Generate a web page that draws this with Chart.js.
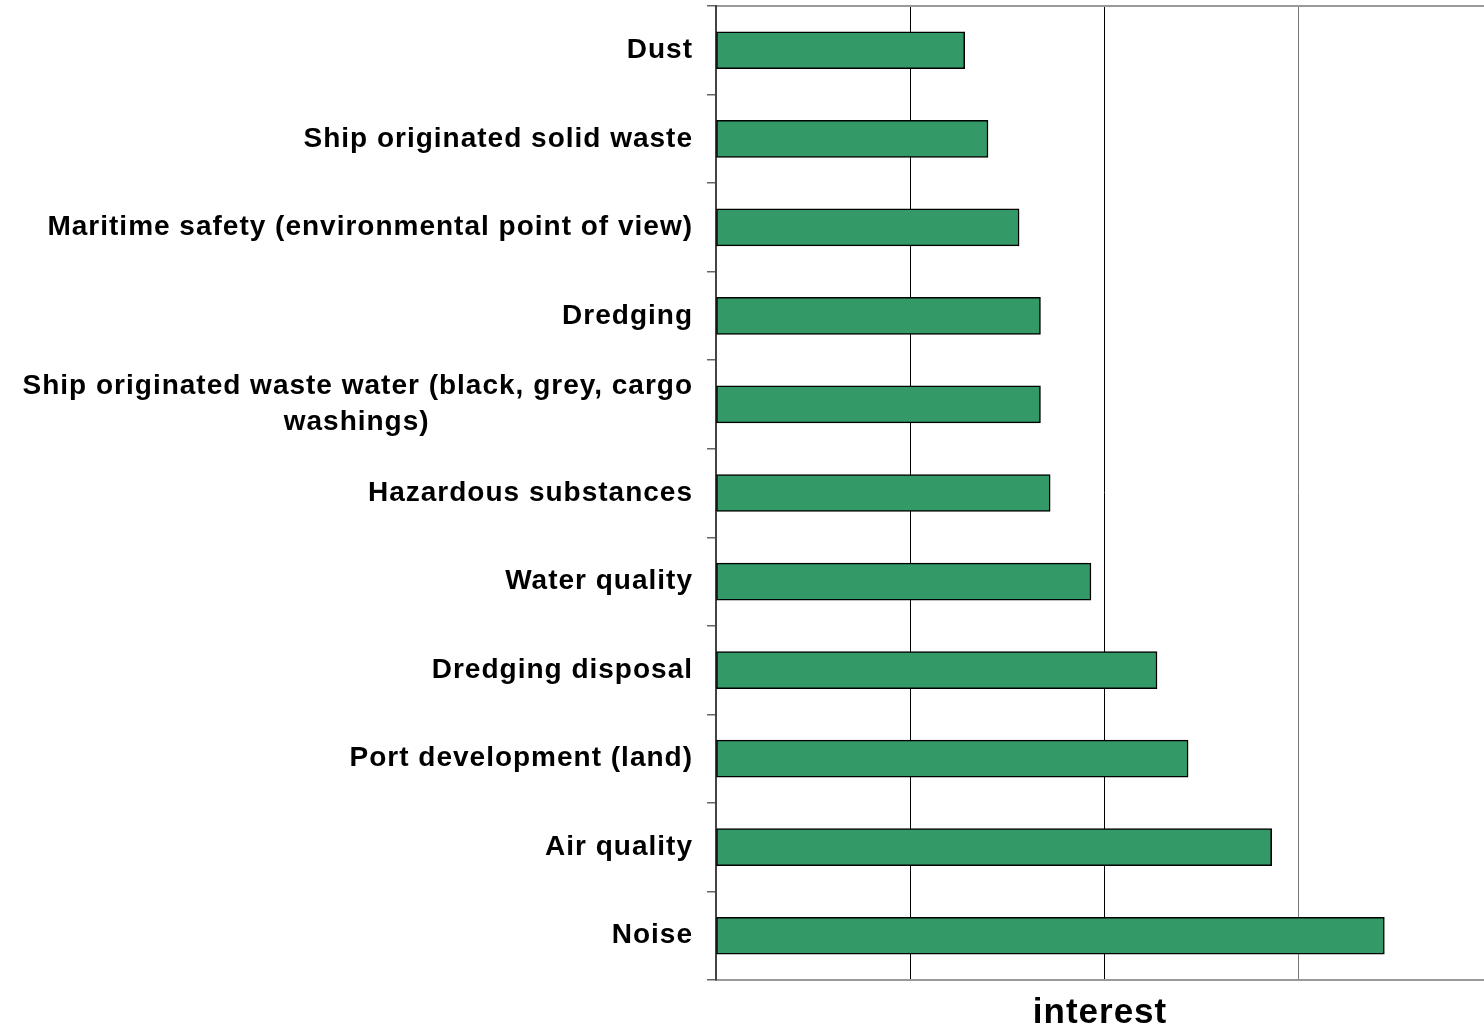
<!DOCTYPE html>
<html>
<head>
<meta charset="utf-8">
<script src="https://cdn.jsdelivr.net/npm/chart.js@4/dist/chart.umd.min.js"></script>
<style>
  html, body { margin: 0; padding: 0; background: #fff; overflow: hidden; }
  #wrap { width: 1484px; height: 1030px; }
</style>
</head>
<body>
<div id="wrap"><canvas id="canvas"></canvas></div>
<script>
// categories top to bottom
let issues = [
  "Dust",
  "Ship originated solid waste",
  "Maritime safety (environmental point of view)",
  "Dredging",
  ["Ship originated waste water (black, grey, cargo", "washings)"],
  "Hazardous substances",
  "Water quality",
  "Dredging disposal",
  "Port development (land)",
  "Air quality",
  "Noise"
];
let interest = [1.28, 1.40, 1.56, 1.67, 1.67, 1.72, 1.93, 2.27, 2.43, 2.86, 3.44];
let axisTitle = "interest";

let labelFont = { family: '"Liberation Sans", Arial, sans-serif', size: 28, weight: 'bold', lineHeight: 1.28 };
let spacing = '1px';

let ctx = document.getElementById("canvas").getContext('2d');

// arial in the original looks a bit wider, add some letter spacing
let spacingPlugin = {
  id: 'spacing',
  beforeUpdate: function(chart) { chart.ctx.letterSpacing = spacing; },
  beforeDraw: function(chart) { chart.ctx.letterSpacing = spacing; }
};

// centre the short lines of a wrapped label under the long one
function centreLines(value, index) {
  let lbl = issues[index];
  if (!Array.isArray(lbl)) return lbl;
  ctx.save();
  ctx.letterSpacing = spacing;
  ctx.font = 'bold ' + labelFont.size + 'px ' + labelFont.family;
  let widths = lbl.map(function(s) { return ctx.measureText(s).width; });
  let maxW = Math.max.apply(null, widths);
  let sp = ctx.measureText(' ').width;
  ctx.restore();
  return lbl.map(function(s, i) {
    let n = Math.round((maxW - widths[i]) / 2 / sp);
    return s + ' '.repeat(n);
  });
}

let config = {
  type: 'bar',
  data: {
    labels: issues,
    datasets: [{
      label: axisTitle,
      data: interest,
      backgroundColor: '#339966',
      borderColor: '#000',
      borderWidth: 1.5,
      borderSkipped: false,
      barThickness: 37
    }]
  },
  options: {
    indexAxis: 'y',
    responsive: true,
    maintainAspectRatio: false,
    animation: false,
    layout: { padding: 0 },
    plugins: { legend: { display: false }, tooltip: { enabled: false } },
    scales: {
      x: {
        position: 'bottom',
        min: 0,
        max: 3.953,
        ticks: { display: false, stepSize: 1 },
        grid: {
          drawTicks: false,
          lineWidth: 1,
          color: function(c) {
            let v = c.tick ? c.tick.value : 0;
            if (v === 0 || v % 1 !== 0) return 'rgba(0,0,0,0)';
            return v === 3 ? '#777' : '#000';
          }
        },
        border: { display: true, color: '#999', width: 2 },
        title: {
          display: true,
          text: axisTitle,
          color: '#000',
          font: { family: '"Liberation Sans", Arial, sans-serif', size: 35, weight: 'bold' },
          padding: { top: 0, bottom: -4 }
        },
        afterFit: function(scale) { scale.height = 50; }
      },
      xTop: {
        position: 'top',
        min: 0,
        max: 3.953,
        ticks: { display: false },
        grid: { display: false },
        border: { display: true, color: '#999', width: 2 },
        afterFit: function(scale) { scale.height = 6; }
      },
      y: {
        position: 'left',
        offset: true,
        ticks: {
          color: '#000',
          font: labelFont,
          padding: 14,
          autoSkip: false,
          callback: centreLines
        },
        grid: {
          offset: true,
          drawOnChartArea: false,
          tickLength: 9,
          color: '#666',
          lineWidth: 1.5
        },
        border: { display: true, color: '#444', width: 2 },
        afterFit: function(scale) {
          scale.width = 716;
          scale.paddingTop = 0;
          scale.paddingBottom = 0;
        }
      }
    }
  },
  plugins: [spacingPlugin]
};

let chart = new Chart(ctx, config);
</script>
</body>
</html>
